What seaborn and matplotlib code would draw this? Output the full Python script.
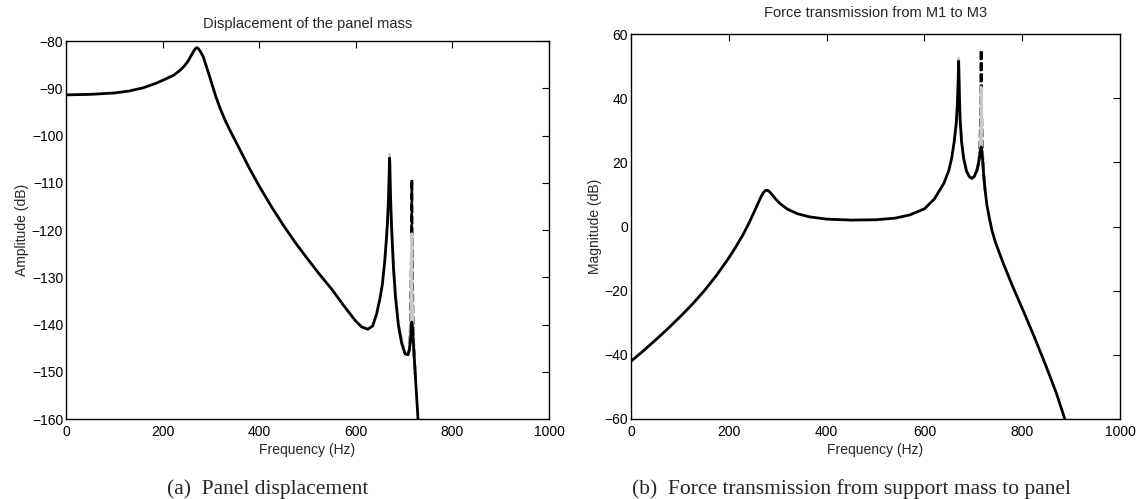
import matplotlib
matplotlib.use("Agg")
import matplotlib.pyplot as plt
import seaborn as sns

# ---------------- data ----------------
# (a) Panel displacement: (frequency Hz, amplitude dB)
pts_a_solid = [(0, -91.4), (50, -91.3), (100, -91.0), (130, -90.6), (160, -89.9),
               (185, -89.0), (205, -88.1), (222, -87.3), (235, -86.3), (245, -85.3),
               (253, -84.2), (259, -83.1), (264, -82.2), (268, -81.6), (271, -81.4),
               (274, -81.6), (278, -82.2), (284, -83.3), (292, -85.8), (300, -88.4),
               (310, -91.7), (320, -94.5), (330, -96.9), (340, -99.0), (360, -103.0),
               (380, -107.0), (400, -110.7), (425, -115.0), (450, -119.0), (475, -122.7),
               (500, -126.1), (525, -129.4), (550, -132.5), (575, -136.0), (600, -139.3),
               (612, -140.5), (625, -141.0), (635, -140.3), (643, -137.8), (650, -134.5),
               (655, -131.5), (660, -126.5), (663, -122.5), (665.5, -118.5), (667.5, -114.0),
               (669, -108.8), (669.5, -106.5), (670, -104.8), (670.5, -106.5), (671, -109.0),
               (672, -113.0), (673, -116.5), (675, -121.5), (678, -128.0), (682, -134.0),
               (688, -140.0), (695, -144.0), (702, -146.2), (708, -146.4), (711, -145.3),
               (713, -143.4), (714, -142.3), (715, -140.8), (716, -139.5), (717, -140.2),
               (718, -141.8), (719, -143.6), (721, -147.0), (724, -152.0), (727, -157.0),
               (730, -162.0), (735, -170.0)]
pts_a_gray = [(660, -126.5), (665.5, -118.5), (669, -108.3), (669.5, -105.8), (670, -103.9),
              (670.5, -105.8), (671, -108.6), (673, -116.5), (678, -128.0), (688, -140.0),
              (702, -146.2), (708, -146.4), (711, -145.3), (712, -144.3), (713, -142.5),
              (714, -138.0), (715, -134.5), (715.5, -129.0), (716, -120.8), (716.5, -129.0),
              (717, -134.5), (718, -138.5), (719, -143.5), (721, -147.0), (724, -152.0)]
pts_a_dash = [(708, -146.4), (711, -145.3), (712, -144.3), (713, -140.0), (714, -135.0),
              (715, -126.0), (715.5, -119.0), (716, -109.4), (716.5, -119.0), (717, -126.0),
              (718, -135.0), (719, -142.0), (721, -147.0), (724, -152.0)]

# (b) Force transmission from support mass to panel: (frequency Hz, magnitude dB)
pts_b_solid = [(0, -42.0), (25, -38.8), (50, -35.4), (75, -31.9), (100, -28.2), (125, -24.3),
               (150, -20.0), (175, -15.2), (200, -9.8), (215, -6.2), (230, -2.3), (242, 1.3),
               (252, 4.6), (260, 7.3), (266, 9.3), (271, 10.6), (275, 11.2), (279, 11.3),
               (283, 10.9), (288, 10.0), (295, 8.7), (305, 7.1), (320, 5.4), (340, 4.0),
               (365, 3.0), (400, 2.3), (450, 2.0), (500, 2.1), (540, 2.6), (570, 3.6),
               (600, 5.5), (620, 8.5), (640, 13.5), (650, 17.5), (656, 21.5), (661, 26.5),
               (665, 32.0), (667.5, 38.0), (669, 45.0), (669.5, 48.5), (670, 51.5),
               (670.5, 48.5), (671, 45.0), (672, 38.5), (673, 33.5), (676, 26.5), (680, 21.5),
               (686, 17.3), (692, 15.5), (697, 15.0), (702, 15.6), (707, 17.3), (710, 19.2),
               (712, 21.0), (714, 23.0), (715, 24.0), (716, 24.8), (717, 24.0), (718, 22.5),
               (719, 21.0), (721, 16.5), (724, 11.5), (728, 6.5), (733, 2.5), (738, -1.1),
               (745, -4.8), (760, -11.0), (780, -18.5), (800, -25.5), (825, -34.5),
               (850, -44.0), (870, -52.0), (885, -59.0), (900, -66.0)]
pts_b_gray = [(660, 25.5), (665, 32.0), (669, 45.0), (669.5, 49.0), (670, 52.5), (670.5, 49.0),
              (671, 45.0), (673, 33.5), (676, 26.5), (680, 21.5), (686, 17.3), (692, 15.5),
              (697, 15.0), (702, 15.6), (707, 17.3), (710, 19.2), (712, 21.0), (713, 23.0),
              (714, 25.5), (715, 29.0), (715.5, 34.0), (716, 43.5), (716.5, 34.0), (717, 29.0),
              (718, 24.5), (719, 21.5), (721, 16.5), (724, 11.5)]
pts_b_dash = [(707, 17.3), (710, 19.2), (712, 21.0), (713, 24.0), (714, 28.0), (715, 36.0),
              (715.5, 43.0), (716, 55.0), (716.5, 43.0), (717, 36.0), (718, 28.0),
              (719, 22.5), (721, 16.5), (724, 11.5)]

xticks = [0, 200, 400, 600, 800, 1000]
yticks_a = [-160, -150, -140, -130, -120, -110, -100, -90, -80]
yticks_b = [-60, -40, -20, 0, 20, 40, 60]

titles = ["Displacement of the panel mass", "Force transmission from M1 to M3"]
ylabels = ["Amplitude (dB)", "Magnitude (dB)"]
xlabel = "Frequency (Hz)"
captions = ["(a)  Panel displacement",
            "(b)  Force transmission from support mass to panel"]

# ---------------- style ----------------
sns.set_style("white")
plt.rcParams["font.family"] = ["Liberation Sans", "DejaVu Sans"]

fig = plt.figure(figsize=(11.42, 4.99), dpi=100)
W, H = 1142, 499
ax_a = fig.add_axes([66 / W, 1 - 419 / H, 483 / W, 378 / H])
ax_b = fig.add_axes([631 / W, 1 - 419 / H, 489 / W, 385 / H])

GRAY = "#c8c8c8"
LW = 2.0


def xy(pts):
    return [p[0] for p in pts], [p[1] for p in pts]


def draw(ax, solid, gray, dash):
    fx, fy = xy(dash)
    sns.lineplot(x=fx, y=fy, ax=ax, color="black", lw=LW, sort=False,
                 estimator=None, linestyle=(0, (3, 1)))
    gx, gy = xy(gray)
    sns.lineplot(x=gx, y=gy, ax=ax, color=GRAY, lw=LW, sort=False, estimator=None)
    sx, sy = xy(solid)
    sns.lineplot(x=sx, y=sy, ax=ax, color="black", lw=LW, sort=False, estimator=None)


draw(ax_a, pts_a_solid, pts_a_gray, pts_a_dash)
draw(ax_b, pts_b_solid, pts_b_gray, pts_b_dash)

for ax, yt, title, yl, tpad in [(ax_a, yticks_a, titles[0], ylabels[0], 9.5),
                                (ax_b, yticks_b, titles[1], ylabels[1], 12)]:
    ax.set_xlim(0, 1000)
    ax.set_ylim(yt[0], yt[-1])
    ax.set_xticks(xticks)
    ax.set_yticks(yt)
    ax.set_xticklabels([str(v) for v in xticks])
    ax.set_yticklabels([("\u2212" + str(-v)) if v < 0 else str(v) for v in yt])
    ax.tick_params(direction="in", top=True, right=True, length=5, width=0.8,
                   labelsize=10, colors="black")
    ax.tick_params(axis="x", pad=4)
    ax.tick_params(axis="y", pad=2)
    for s in ax.spines.values():
        s.set_visible(True)
        s.set_color("black")
        s.set_linewidth(1.0)
    ax.set_title(title, fontsize=10.5, pad=tpad)
    ax.set_xlabel(xlabel, fontsize=10, labelpad=3)
    ax.set_ylabel(yl, fontsize=10, labelpad=2)
    ax.set_facecolor("white")

fig.text(268 / W, 1 - 489 / H, captions[0], ha="center", va="center",
         fontsize=15.5, family=["Liberation Serif", "DejaVu Serif"])
fig.text(852 / W, 1 - 489 / H, captions[1], ha="center", va="center",
         fontsize=15.5, family=["Liberation Serif", "DejaVu Serif"])

fig.savefig("out.png", dpi=100, facecolor="white")
